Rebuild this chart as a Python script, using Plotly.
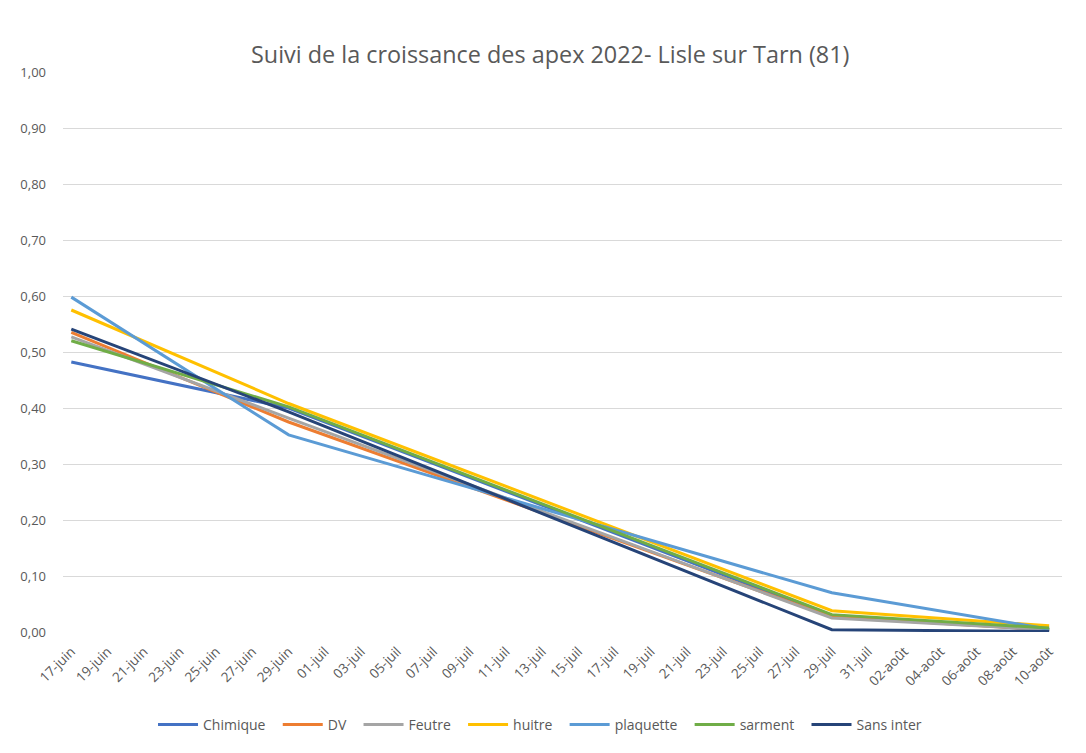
import plotly.graph_objects as go
import pandas as pd

dates = ["2022-06-17", "2022-06-29", "2022-07-29", "2022-08-10"]

chimique = [0.482, 0.400, 0.028, 0.004]
dv = [0.535, 0.375, 0.027, 0.004]
feutre = [0.527, 0.382, 0.025, 0.004]
huitre = [0.575, 0.408, 0.038, 0.011]
plaquette = [0.598, 0.352, 0.070, 0.005]
sarment = [0.520, 0.402, 0.031, 0.007]
sans_inter = [0.541, 0.393, 0.004, 0.001]

series_names = ["Chimique", "DV", "Feutre", "huitre", "plaquette", "sarment", "Sans inter"]
series_values = [chimique, dv, feutre, huitre, plaquette, sarment, sans_inter]
colors = ["#4472C4", "#ED7D31", "#A5A5A5", "#FFC000", "#5B9BD5", "#70AD47", "#264478"]

tick_dates = list(pd.date_range("2022-06-17", "2022-08-10", freq="2D").strftime("%Y-%m-%d"))
tick_labels = ["17-juin", "19-juin", "21-juin", "23-juin", "25-juin", "27-juin", "29-juin",
               "01-juil", "03-juil", "05-juil", "07-juil", "09-juil", "11-juil", "13-juil",
               "15-juil", "17-juil", "19-juil", "21-juil", "23-juil", "25-juil", "27-juil",
               "29-juil", "31-juil", "02-août", "04-août", "06-août", "08-août", "10-août"]

font_family = "'Open Sans', 'Noto Sans', sans-serif"
grey = "#595959"
pad = "\u00a0\u00a0"

fig = go.Figure()
for name, vals, c in zip(series_names, series_values, colors):
    fig.add_trace(go.Scatter(x=dates, y=vals, mode="lines", name=name + pad,
                             line=dict(color=c, width=3)))

fig.update_layout(
    width=1078, height=745,
    paper_bgcolor="white", plot_bgcolor="white",
    separators=", ",
    font=dict(family=font_family, color=grey, size=13),
    title=dict(text="Suivi de la croissance des apex 2022- Lisle sur Tarn (81)",
               x=0.503, xanchor="center", y=0.937, yanchor="middle",
               font=dict(size=23.4, color=grey, family=font_family)),
    margin=dict(l=52, r=24, t=64, b=121),
    legend=dict(orientation="h", x=0.481, xanchor="center", y=-0.166, yanchor="middle",
                font=dict(size=14, color=grey), itemwidth=40,
                traceorder="normal"),
    showlegend=True,
)
fig.update_xaxes(
    type="date",
    range=["2022-06-16 13:00", "2022-08-10 17:00"],
    tickvals=tick_dates, ticktext=tick_labels, tickangle=-45,
    showgrid=False, zeroline=False, showline=False,
    ticklabelstandoff=8,
    tickfont=dict(size=13.5, color=grey),
)
fig.update_yaxes(
    range=[0, 1.0], dtick=0.1, tickformat=".2f",
    showgrid=True, gridcolor="#D9D9D9", gridwidth=1,
    zeroline=False, showline=False,
    ticks="", ticklabelstandoff=16,
    tickfont=dict(size=13, color=grey),
)

fig.write_html("out.html")
